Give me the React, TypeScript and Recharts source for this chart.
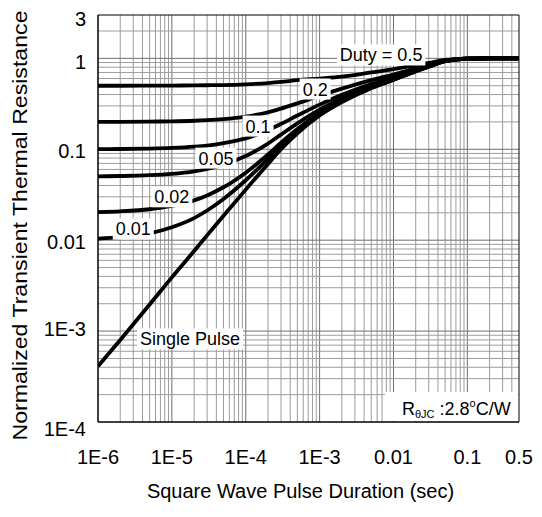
import React from 'react';
import { LineChart, Line, XAxis, YAxis, ReferenceLine, ReferenceDot, ReferenceArea } from 'recharts';

const FONT = '"Liberation Sans", Arial, Helvetica, sans-serif';

// Square wave pulse duration (sec)
const pulseDuration = [1e-6, 2e-6, 5e-6, 1e-5, 2e-5, 3e-5, 5e-5, 1e-4, 2e-4, 3e-4, 5e-4, 1e-3, 2e-3, 5e-3, 1e-2, 2e-2, 3e-2, 5e-2, 0.1, 0.2, 0.5];

// Normalized transient thermal resistance per duty cycle
const singlePulse = [0.00041, 0.0008, 0.00196, 0.0039, 0.0076, 0.0113, 0.0186, 0.036, 0.069, 0.1, 0.15, 0.235, 0.33, 0.47, 0.58, 0.72, 0.81, 0.93, 0.99, 1.0, 1.0];
const duty001 = [0.0104, 0.0108, 0.0119, 0.0139, 0.0175, 0.0212, 0.0284, 0.0456, 0.0783, 0.109, 0.158, 0.243, 0.337, 0.475, 0.584, 0.723, 0.812, 0.931, 0.99, 1.0, 1.0];
const duty002 = [0.0204, 0.0208, 0.0219, 0.0238, 0.0274, 0.0311, 0.0382, 0.0553, 0.0876, 0.118, 0.167, 0.25, 0.343, 0.481, 0.588, 0.726, 0.814, 0.931, 0.99, 1.0, 1.0];
const duty005 = [0.0504, 0.0508, 0.0519, 0.0537, 0.0572, 0.0607, 0.0677, 0.0842, 0.1156, 0.145, 0.1925, 0.273, 0.3635, 0.4965, 0.601, 0.734, 0.82, 0.934, 0.99, 1.0, 1.0];
const duty01 = [0.1004, 0.1007, 0.1018, 0.1035, 0.1068, 0.11, 0.117, 0.132, 0.162, 0.19, 0.235, 0.31, 0.397, 0.523, 0.622, 0.748, 0.829, 0.937, 0.99, 1.0, 1.0];
const duty02 = [0.2003, 0.2006, 0.2016, 0.203, 0.206, 0.209, 0.215, 0.229, 0.255, 0.28, 0.32, 0.388, 0.464, 0.576, 0.664, 0.776, 0.848, 0.944, 0.99, 1.0, 1.0];
const duty05 = [0.5, 0.5, 0.501, 0.502, 0.504, 0.506, 0.509, 0.518, 0.535, 0.55, 0.575, 0.6, 0.63, 0.7, 0.76, 0.84, 0.89, 0.96, 0.995, 1.0, 1.0];

const seriesKeys = ['sp', 'd001', 'd002', 'd005', 'd01', 'd02', 'd05'];

// Axis ticks
const xTicks = [1e-6, 1e-5, 1e-4, 1e-3, 0.01, 0.1, 0.5];
const xTickLabels = ['1E-6', '1E-5', '1E-4', '1E-3', '0.01', '0.1', '0.5'];
const yTicks = [1e-4, 1e-3, 0.01, 0.1, 1, 3];
const yTickLabels = ['1E-4', '1E-3', '0.01', '0.1', '1', '3'];
const yTickNudge = [7, -2, 2, 2, 3, 4];

// Grid (log decades with minor lines)
const gridMantissas = [1, 2, 3, 4, 5, 6, 7, 8, 9];
const xDecades = [-6, -5, -4, -3, -2, -1];
const yDecades = [-4, -3, -2, -1, 0];

// Curve annotations (data coordinates)
const curveTags = [
  { text: 'Duty = 0.5', x: 6.8e-3, y: 1.09 },
  { text: '0.2', x: 8.7e-4, y: 0.46 },
  { text: '0.1', x: 1.47e-4, y: 0.18 },
  { text: '0.05', x: 3.95e-5, y: 0.08 },
  { text: '0.02', x: 1.0e-5, y: 0.03 },
  { text: '0.01', x: 3.0e-6, y: 0.0133 },
  { text: 'Single Pulse', x: 1.76e-5, y: 8.2e-4 },
];

const X_MIN = 1e-6, X_MAX = 0.5, Y_MIN = 1e-4, Y_MAX = 3;

const rows = pulseDuration.map((x, i) => ({
  x,
  sp: singlePulse[i],
  d001: duty001[i],
  d002: duty002[i],
  d005: duty005[i],
  d01: duty01[i],
  d02: duty02[i],
  d05: duty05[i],
}));

function buildGrid(decades: number[], min: number, max: number) {
  const out: { v: number; major: boolean }[] = [];
  decades.forEach((d) =>
    gridMantissas.forEach((m) => {
      const v = parseFloat((m * Math.pow(10, d)).toPrecision(3));
      if (v > min * 1.0001 && v < max * 0.9999) out.push({ v, major: m === 1 });
    })
  );
  return out;
}
const xGrid = buildGrid(xDecades, X_MIN, X_MAX);
const yGrid = buildGrid(yDecades, Y_MIN, Y_MAX);

const CHAR_W: Record<string, number> = {
  '.': 0.278, ' ': 0.278, ':': 0.278, '=': 0.584, D: 0.722, S: 0.667, P: 0.667,
  i: 0.222, l: 0.222, t: 0.278, y: 0.5, s: 0.5, u: 0.556, g: 0.556, e: 0.556, n: 0.556,
};
function textWidth(s: string, fs: number) {
  let w = 0;
  for (const c of s) w += CHAR_W[c] ?? 0.556;
  return w * fs;
}

const TagShape = (props: any) => {
  const { cx, cy, text } = props;
  const fs = 18;
  const w = textWidth(text, fs) + 6;
  const h = 21;
  return (
    <g>
      <rect x={cx - w / 2} y={cy - h / 2} width={w} height={h} fill="#fff" />
      <text x={cx} y={cy} dy="0.36em" textAnchor="middle" fontSize={fs} fontFamily={FONT} fill="#000">
        {text}
      </text>
    </g>
  );
};

const RthShape = (props: any) => {
  const { cx, cy } = props;
  return (
    <g>
      <rect x={cx - 134} y={cy - 30} width={133} height={29} fill="#fff" />
      <text x={cx - 117} y={cy - 7} fontSize={18} fontFamily={FONT} fill="#000">
        R
        <tspan fontSize={11} dy={3}>θJC</tspan>
        <tspan fontSize={18} dy={-3}> :2.8</tspan>
        <tspan fontSize={11} dy={-8}>o</tspan>
        <tspan fontSize={18} dy={8}>C/W</tspan>
      </text>
    </g>
  );
};

const YTick = (props: any) => {
  const { x, y, payload } = props;
  const i = yTicks.indexOf(payload.value);
  const shift = i >= 0 ? yTickNudge[i] : 0;
  return (
    <text x={x} y={y + shift} dy="0.36em" textAnchor="end" fontSize={20} fontFamily={FONT} fill="#000">
      {i >= 0 ? yTickLabels[i] : ''}
    </text>
  );
};

const XTick = (props: any) => {
  const { x, y, payload } = props;
  const i = xTicks.indexOf(payload.value);
  return (
    <text x={x} y={y} dy="0.71em" textAnchor="middle" fontSize={20} fontFamily={FONT} fill="#000">
      {i >= 0 ? xTickLabels[i] : ''}
    </text>
  );
};

const YTitle = (props: any) => {
  const vb = props.viewBox;
  const cx = vb.x + 19;
  const cy = vb.y + vb.height / 2 + 7;
  return (
    <text
      x={cx}
      y={cy}
      transform={`rotate(-90 ${cx} ${cy})`}
      textAnchor="middle"
      fontSize={20}
      fontFamily={FONT}
      fill="#000"
      textLength={430}
      lengthAdjust="spacingAndGlyphs"
    >
      Normalized Transient Thermal Resistance
    </text>
  );
};

const XTitle = (props: any) => {
  const vb = props.viewBox;
  const cx = vb.x + vb.width / 2 - 8;
  const cy = vb.y + 76;
  return (
    <text x={cx} y={cy} textAnchor="middle" fontSize={20} fontFamily={FONT} fill="#000">
      Square Wave Pulse Duration (sec)
    </text>
  );
};

export default function App() {
  return (
    <div style={{ width: 534, height: 509, background: '#fff' }}>
      <LineChart width={534} height={509} data={rows} margin={{ top: 7, right: 23, bottom: 0, left: 0 }}>
        <XAxis
          dataKey="x"
          type="number"
          scale="log"
          domain={[X_MIN, X_MAX]}
          allowDataOverflow
          ticks={xTicks}
          interval={0}
          tickSize={0}
          tickMargin={28}
          tickLine={false}
          axisLine={{ stroke: '#000', strokeWidth: 1 }}
          tick={<XTick />}
          height={95}
          label={<XTitle />}
        />
        <YAxis
          type="number"
          scale="log"
          domain={[Y_MIN, Y_MAX]}
          allowDataOverflow
          ticks={yTicks}
          interval={0}
          tickSize={0}
          tickMargin={12}
          tickLine={false}
          axisLine={{ stroke: '#000', strokeWidth: 1 }}
          tick={<YTick />}
          width={90}
          label={<YTitle />}
        />
        {xGrid.map((g) => (
          <ReferenceLine key={'gx' + g.v} x={g.v} stroke={g.major ? '#707070' : '#9c9c9c'} strokeWidth={1} zIndex={-100} />
        ))}
        {yGrid.map((g) => (
          <ReferenceLine key={'gy' + g.v} y={g.v} stroke={g.major ? '#707070' : '#9c9c9c'} strokeWidth={1} zIndex={-100} />
        ))}
        {seriesKeys.map((k) => (
          <Line
            key={k}
            dataKey={k}
            type="monotone"
            stroke="#000"
            strokeWidth={3.8}
            dot={false}
            activeDot={false}
            isAnimationActive={false}
          />
        ))}
        <ReferenceArea x1={X_MIN} x2={X_MAX} y1={Y_MIN} y2={Y_MAX} fill="none" stroke="#000" strokeWidth={1} zIndex={1500} />
        {curveTags.map((t) => (
          <ReferenceDot
            key={t.text}
            x={t.x}
            y={t.y}
            r={0}
            zIndex={2000}
            shape={(p: any) => <TagShape {...p} text={t.text} />}
          />
        ))}
        <ReferenceDot x={X_MAX} y={Y_MIN} r={0} zIndex={2000} shape={(p: any) => <RthShape {...p} />} />
      </LineChart>
    </div>
  );
}
